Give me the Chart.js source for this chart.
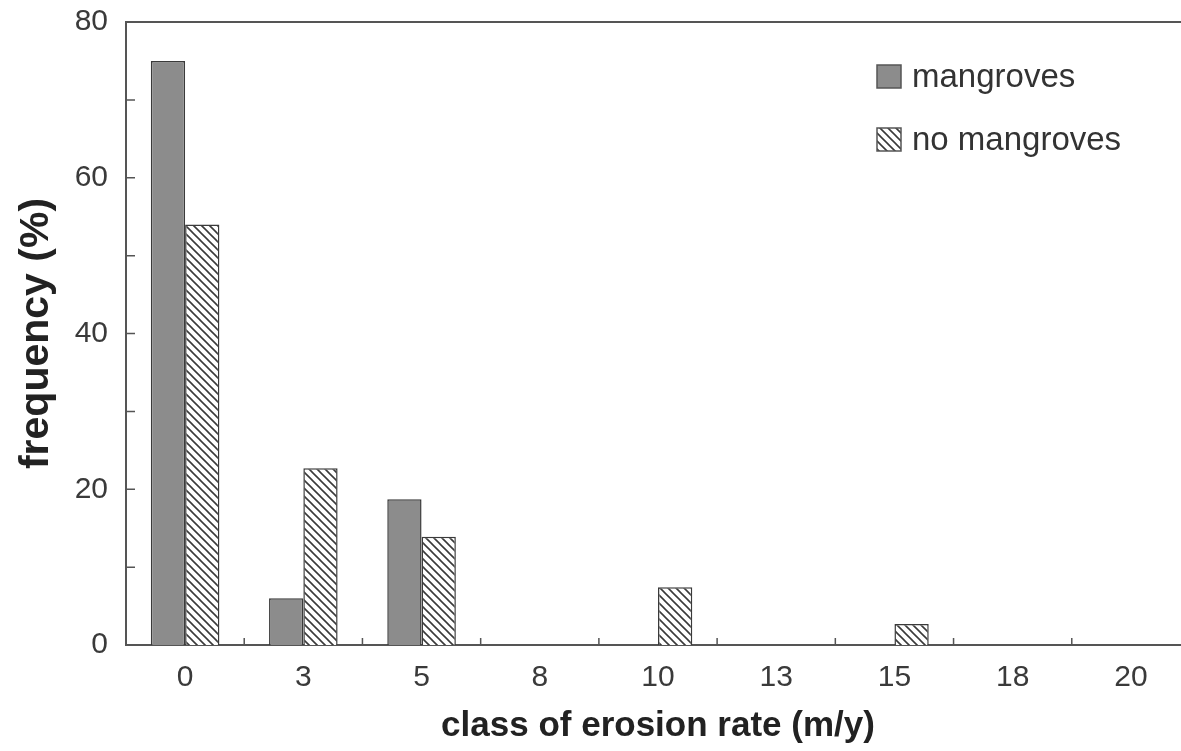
<!DOCTYPE html>
<html>
<head>
<meta charset="utf-8">
<script src="https://cdn.jsdelivr.net/npm/chart.js@4/dist/chart.umd.min.js"></script>
<style>
  html, body { margin: 0; padding: 0; background: #fff; overflow: hidden; }
  #wrap { width: 1190px; height: 751px; }
</style>
</head>
<body>
<div id="wrap"><canvas id="erosionChart"></canvas></div>
<script>
const classes = ['0', '3', '5', '8', '10', '13', '15', '18', '20'];
const mangroves = [75, 6, 18.7, 0, 0, 0, 0, 0, 0];
const noMangroves = [54, 22.7, 13.9, 0, 7.4, 0, 2.7, 0, 0];
const yMajorTicks = [0, 20, 40, 60, 80];
const yMinorTicks = [10, 30, 50, 70];

const FONT = '"Liberation Sans", Arial, sans-serif';

// diagonal hatch for the "no mangroves" bars
function makeHatch() {
    const c = document.createElement('canvas');
    c.width = 8; c.height = 8;
    const g = c.getContext('2d');
    g.fillStyle = '#fff';
    g.fillRect(0, 0, 8, 8);
    g.strokeStyle = '#3a3a3a';
    g.lineWidth = 1.6;
    g.beginPath();
    g.moveTo(-2, -2); g.lineTo(10, 10);
    g.moveTo(-2, 6); g.lineTo(2, 10);
    g.moveTo(6, -2); g.lineTo(10, 2);
    g.stroke();
    return g.createPattern(c, 'repeat');
}
const hatch = makeHatch();

const noZeroBorder = ctx => (ctx.raw ? 1.5 : 0);

// inward ticks, top frame line and the inside legend
const framePlugin = {
    id: 'frame',
    afterDraw(chart) {
        const { ctx, chartArea: a, scales } = chart;
        ctx.save();
        ctx.strokeStyle = '#555';
        ctx.lineWidth = 2;
        ctx.beginPath();
        ctx.moveTo(a.left, a.top);
        ctx.lineTo(a.right, a.top);
        ctx.stroke();

        ctx.lineWidth = 1.5;
        ctx.beginPath();
        yMajorTicks.concat(yMinorTicks).forEach(v => {
            const y = scales.y.getPixelForValue(v);
            ctx.moveTo(a.left, y);
            ctx.lineTo(a.left + 9, y);
        });
        for (let i = 0; i < classes.length - 1; i++) {
            const x = (scales.x.getPixelForValue(i) + scales.x.getPixelForValue(i + 1)) / 2;
            ctx.moveTo(x, a.bottom);
            ctx.lineTo(x, a.bottom - 7);
        }
        ctx.stroke();

        // legend
        ctx.font = '33px ' + FONT;
        ctx.textBaseline = 'middle';
        chart.data.datasets.forEach((ds, i) => {
            const x = 877, y = 65 + i * 63;
            ctx.fillStyle = ds.backgroundColor;
            ctx.fillRect(x, y, 24, 23);
            ctx.strokeStyle = '#555';
            ctx.lineWidth = 1.5;
            ctx.strokeRect(x, y, 24, 23);
            ctx.fillStyle = '#333';
            ctx.fillText(ds.label, 912, y + 13);
        });
        ctx.restore();
    }
};

new Chart(document.getElementById('erosionChart'), {
    type: 'bar',
    data: {
        labels: classes,
        datasets: [
            {
                label: 'mangroves',
                data: mangroves,
                backgroundColor: '#8c8c8c',
                borderColor: '#3a3a3a',
                borderWidth: noZeroBorder,
                borderSkipped: 'bottom'
            },
            {
                label: 'no mangroves',
                data: noMangroves,
                backgroundColor: hatch,
                borderColor: '#3a3a3a',
                borderWidth: noZeroBorder,
                borderSkipped: 'bottom'
            }
        ]
    },
    options: {
        responsive: true,
        maintainAspectRatio: false,
        animation: false,
        layout: { padding: { top: 22, right: 0, left: 0, bottom: 0 } },
        plugins: {
            legend: { display: false },
            tooltip: { enabled: false }
        },
        datasets: {
            bar: { categoryPercentage: 0.58, barPercentage: 1.0 }
        },
        scales: {
            x: {
                grid: { display: false },
                border: { display: true, color: '#555', width: 2 },
                ticks: {
                    color: '#3a3a3a',
                    padding: 7,
                    font: { family: FONT, size: 30 }
                },
                title: {
                    display: true,
                    text: 'class of erosion rate (m/y)',
                    color: '#222',
                    padding: { top: 12 },
                    font: { family: FONT, size: 35, weight: 'bold' }
                },
                afterFit(scale) {
                    scale.height = 106;
                    scale.paddingLeft = 0;
                    scale.paddingRight = 0;
                }
            },
            y: {
                min: 0,
                max: 80,
                grid: { display: false },
                border: { display: true, color: '#555', width: 2 },
                afterBuildTicks(scale) {
                    scale.ticks = yMajorTicks.map(v => ({ value: v }));
                },
                ticks: {
                    color: '#3a3a3a',
                    padding: 10,
                    font: { family: FONT, size: 30 }
                },
                title: {
                    display: true,
                    text: 'frequency (%)',
                    color: '#222',
                    padding: { top: 12, bottom: 0 },
                    font: { family: FONT, size: 41, weight: 'bold' }
                },
                afterFit(scale) {
                    scale.width = 126;
                    scale.paddingTop = 0;
                    scale.paddingBottom = 0;
                }
            }
        }
    },
    plugins: [framePlugin]
});
</script>
</body>
</html>
